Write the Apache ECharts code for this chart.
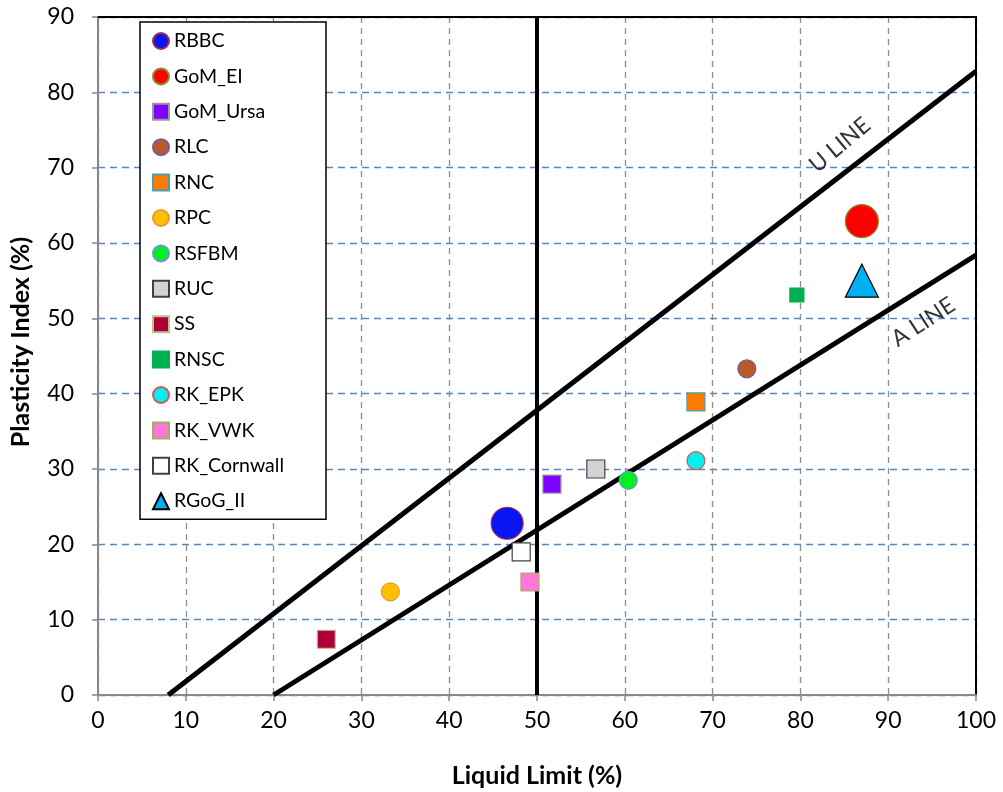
<!DOCTYPE html>
<html>
<head>
<meta charset="utf-8">
<script src="https://cdn.jsdelivr.net/npm/echarts@6/dist/echarts.min.js"></script>
<style>html,body{margin:0;padding:0;background:#fff;}#c{width:1003px;height:792px;}</style>
</head>
<body>
<div id="c"></div>
<script>
// ---- data ----
var sampleNames = ['RBBC','GoM_EI','GoM_Ursa','RLC','RNC','RPC','RSFBM','RUC','SS','RNSC','RK_EPK','RK_VWK','RK_Cornwall','RGoG_II'];
var liquidLimit = [46.6, 87.0, 51.7, 73.9, 68.1, 33.3, 60.4, 56.7, 26.0, 79.6, 68.1, 49.2, 48.2, 87.0];
var plasticityIndex = [22.8, 62.9, 28.0, 43.3, 38.9, 13.7, 28.5, 30.0, 7.4, 53.1, 31.1, 15.0, 19.0, 55.0];
var aLineX = [20, 100];
var aLineY = [0, 58.4];
var uLineX = [8, 100];
var uLineY = [0, 82.8];
var llDividerX = [50, 50];
var llDividerY = [0, 90];
var lineLabels = ['U LINE', 'A LINE'];
var lineLabelX = [84.5, 94.0];
var lineLabelY = [73.0, 49.5];
var xTicks = [0,10,20,30,40,50,60,70,80,90,100];
var yTicks = [0,10,20,30,40,50,60,70,80,90];

// ---- styles ----
var symbols = ['circle','circle','rect','circle','rect','circle','circle','rect','rect','rect','circle','rect','rect','triangle'];
var sizes   = [32, 33, 18, 18, 18, 18, 18, 18, 18, 14, 18, 18, 18, 33];
var fills   = ['#0a14f5','#ff0000','#7f00ff','#b85a28','#ff7a00','#ffc000','#00ee22','#d3d3d3','#b0003a','#00b050','#00f0f0','#ff77d8','#ffffff','#00b0f0'];
var borders = ['#a03050','#8a8a30','#9a9a9a','#7a5aa0','#4aa0b0','#e89a30','#6a9ad0','#404040','#c0c090','#00b050','#e05050','#a0b060','#404040','#000000'];

var series = [];
function lineSeries(xs, ys, w) {
  var d = xs.map(function (x, i) { return [x, ys[i]]; });
  return { type: 'line', data: d, symbol: 'none', silent: true, z: 3,
    lineStyle: { color: '#000', width: w }, animation: false };
}
series.push(lineSeries(uLineX, uLineY, 5));
series.push(lineSeries(aLineX, aLineY, 5));
series.push(lineSeries(llDividerX, llDividerY, 4));
lineLabels.forEach(function (t, i) {
  series.push({ type: 'scatter', data: [[lineLabelX[i], lineLabelY[i]]], symbolSize: 1,
    itemStyle: { color: 'rgba(0,0,0,0)' }, silent: true, z: 4,
    label: { show: true, position: 'inside', formatter: t, rotate: i === 0 ? 40 : 33,
      color: '#000', fontFamily: 'Lato', fontSize: 23 } });
});
sampleNames.forEach(function (n, i) {
  series.push({ name: n, type: 'scatter', symbol: symbols[i], symbolSize: sizes[i], z: 5,
    data: [[liquidLimit[i], plasticityIndex[i]]],
    itemStyle: { color: fills[i], borderColor: borders[i], borderWidth: 1.2, opacity: 1 } });
});

var frameAxis = {
  type: 'value', axisLine: { show: true, onZero: false, lineStyle: { color: '#000', width: 2 } },
  axisTick: { show: false }, axisLabel: { show: false }, splitLine: { show: false }
};

var chart = echarts.init(document.getElementById('c'), null, { renderer: 'canvas' });
chart.setOption({
  animation: false,
  backgroundColor: '#fff',
  grid: { left: 98, right: 27, top: 17, bottom: 97, containLabel: false, outerBoundsMode: 'none' },
  legend: {
    data: sampleNames, orient: 'vertical', left: 140, top: 22,
    itemWidth: 16, itemHeight: 16, itemGap: 15.4,
    padding: [9, 42, 8, 12],
    backgroundColor: '#fff', borderColor: '#000', borderWidth: 1.5,
    textStyle: { fontFamily: 'Lato', fontSize: 19.5, color: '#000' },
    selectedMode: false
  },
  xAxis: [{
    type: 'value', min: 0, max: 100, interval: 10,
    name: 'Liquid Limit (%)', nameLocation: 'middle', nameGap: 68,
    nameTextStyle: { fontFamily: 'Lato', fontWeight: 'bold', fontSize: 25, color: '#000' },
    axisLine: { show: true, lineStyle: { color: '#888', width: 2 } },
    axisTick: { show: true, length: 6, lineStyle: { color: '#888', width: 1.5 } },
    axisLabel: { margin: 14, fontFamily: 'Lato', fontSize: 23, color: '#000',
      formatter: function (v) { return xTicks.indexOf(v) >= 0 ? String(v) : ''; } },
    splitLine: { show: true, lineStyle: { color: '#8c8c8c', width: 1.3, type: [6, 5] } }
  }, Object.assign({}, frameAxis, { position: 'top', min: 0, max: 100, interval: 10 })],
  yAxis: [{
    type: 'value', min: 0, max: 90, interval: 10,
    name: 'Plasticity Index (%)', nameLocation: 'middle', nameGap: 65,
    nameTextStyle: { fontFamily: 'Lato', fontWeight: 'bold', fontSize: 25, color: '#000', padding: [0, 0, 0, 28] },
    axisLine: { show: true, lineStyle: { color: '#888', width: 2 } },
    axisTick: { show: true, length: 6, lineStyle: { color: '#888', width: 1.5 } },
    axisLabel: { margin: 24, fontFamily: 'Lato', fontSize: 23, color: '#000',
      formatter: function (v) { return yTicks.indexOf(v) >= 0 ? String(v) : ''; } },
    splitLine: { show: true, lineStyle: { color: '#5a86c0', width: 1.3, type: [7, 5] } }
  }, Object.assign({}, frameAxis, { position: 'right', min: 0, max: 90, interval: 10 })],
  series: series
});
</script>
</body>
</html>
